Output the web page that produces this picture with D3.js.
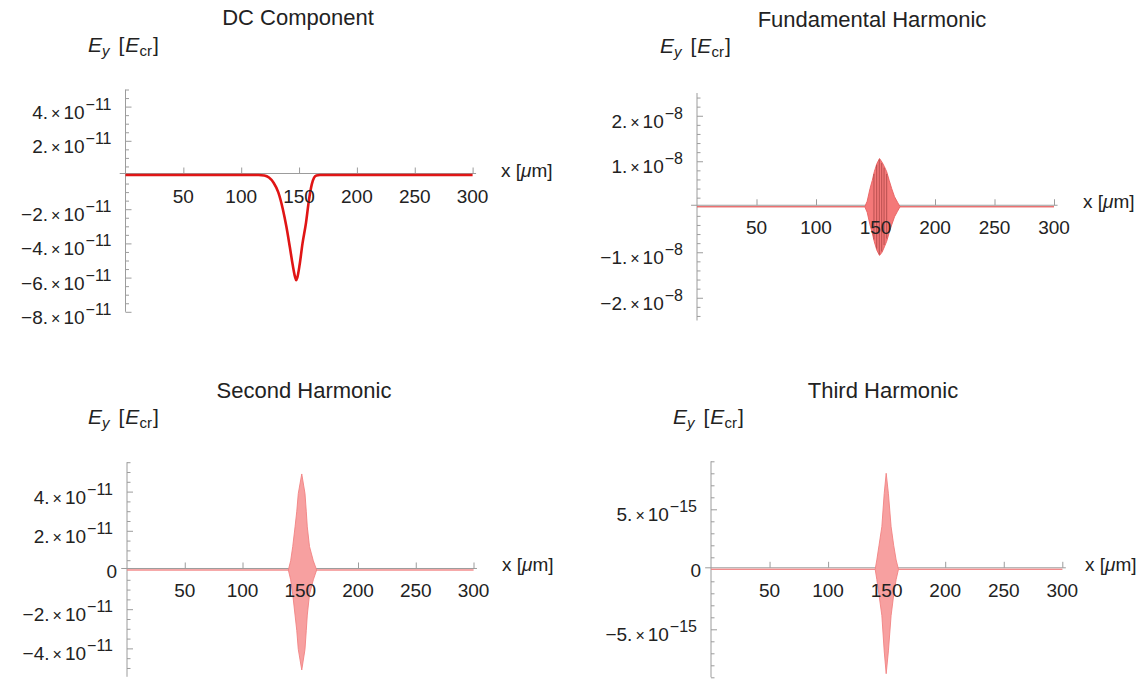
<!DOCTYPE html>
<html>
<head>
<meta charset="utf-8">
<script src="https://cdn.jsdelivr.net/npm/d3@7"></script>
<style>
  body { margin: 0; background: #fff; }
  svg { display: block; font-family: "Liberation Sans", Arial, Helvetica, sans-serif; }
</style>
</head>
<body>
<svg id="chart" width="1147" height="681"></svg>
<script>
// x in µm, field values in units of 10^exp E_cr (exp given per panel)
const xTicks = [50, 100, 150, 200, 250, 300];

// DC component (×1e-11)
const dcX = [0, 115, 120, 124, 128, 132, 136, 139, 142, 144.5, 146.5, 147.5, 148.5, 150.5, 153, 156, 158.5, 161, 163, 165, 168, 300];
const dcY = [0, 0, -0.03, -0.15, -0.45, -1.0, -2.0, -3.0, -4.2, -5.25, -5.95, -6.15, -6.0, -5.25, -4.0, -2.8, -1.5, -0.55, -0.15, -0.03, 0, 0];
const dcYTicks = [4, 2, -2, -4, -6, -8];

// Fundamental harmonic envelope (×1e-8)
const fundX  = [0, 141, 143, 145.4, 147.3, 149, 151.2, 153.4, 155.5, 157.5, 159.4, 161.5, 163.6, 166, 168.5, 170.6, 300];
const fundUp = [0, 0, 0.12, 0.4, 0.58, 0.77, 0.95, 1.06, 0.98, 0.88, 0.77, 0.58, 0.4, 0.22, 0.1, 0, 0];
const fundLo = [0, 0, -0.12, -0.4, -0.58, -0.77, -0.96, -1.07, -1.0, -0.88, -0.76, -0.57, -0.4, -0.22, -0.1, 0, 0];
// dark carrier strokes visible inside the packet
const fundStripeX  = [148.7, 151, 153.2, 155.2, 157.2, 159.4];
const fundStripeUp = [0.72, 0.92, 1.04, 0.96, 0.86, 0.72];
const fundStripeLo = [-0.72, -0.92, -1.05, -0.98, -0.84, -0.7];
const fundYTicks = [2, 1, -1, -2];

// Second harmonic envelope (×1e-11)
const secX  = [0, 139.7, 141.7, 143.5, 145.5, 147, 148.3, 151.3, 154.1, 155.2, 156.1, 158, 161.3, 164.2, 300];
const secUp = [0, 0, 0.47, 1.2, 2.2, 3.0, 3.9, 4.9, 3.9, 3.0, 2.2, 1.2, 0.47, 0, 0];
const secLo = [0, 0, -0.5, -1.25, -2.3, -3.1, -4.05, -5.1, -4.05, -3.1, -2.3, -1.25, -0.5, 0, 0];
const secYTicks = [4, 2, 0, -2, -4];

// Third harmonic envelope (×1e-15)
const thirdX  = [0, 140.2, 141.6, 143.5, 145.9, 147.9, 149.6, 151.5, 153.8, 156, 158.1, 160.1, 300];
const thirdUp = [0, 0, 0.78, 2.0, 3.55, 6.3, 8.0, 6.3, 3.55, 2.0, 0.78, 0, 0];
const thirdLo = [0, 0, -0.85, -2.15, -3.85, -6.8, -8.7, -6.8, -3.85, -2.15, -0.85, 0, 0];
const thirdYTicks = [5, 0, -5];

const AXIS = '#9c9c9c';
const INK = '#222';

const panels = [
  { title: 'DC Component', tx: 298, ty: 25, lx: 88, ly: 52, xl: 501,
    xr: [125.5, 472.6], yd: [-8, 5], yr: [311.8, 89.5], exp: -11,
    major: dcYTicks, minorStep: 0.5, kind: 'line', xs: dcX, ys: dcY },
  { title: 'Fundamental Harmonic', tx: 872, ty: 27, lx: 660, ly: 53, xl: 1083,
    xr: [697, 1054], yd: [-2.5, 2.5], yr: [320.5, 93], exp: -8,
    major: fundYTicks, minorStep: 0.2, kind: 'fund', xs: fundX, up: fundUp, lo: fundLo },
  { title: 'Second Harmonic', tx: 304, ty: 398, lx: 88, ly: 424, xl: 502,
    xr: [127, 473.5], yd: [-5.45, 5.5], yr: [676.8, 462.2], exp: -11,
    major: secYTicks, minorStep: 0.5, kind: 'env', xs: secX, up: secUp, lo: secLo },
  { title: 'Third Harmonic', tx: 883, ty: 398, lx: 673, ly: 424, xl: 1085,
    xr: [711, 1062.3], yd: [-9, 9], yr: [677.3, 461.3], exp: -15,
    major: thirdYTicks, minorStep: 1, kind: 'env', xs: thirdX, up: thirdUp, lo: thirdLo }
];

const svg = d3.select('#chart');
svg.append('rect').attr('width', 1147).attr('height', 681).attr('fill', '#fff');

function sciLabel(sel, v, exp) {
  if (v === 0) {
    sel.append('tspan').text('0');
    return;
  }
  const m = (v < 0 ? '\u2212' : '') + Math.abs(v) + '.';
  sel.append('tspan').text(m);
  sel.append('tspan').attr('dx', 3).attr('font-size', 16).text('\u00d7');
  sel.append('tspan').attr('dx', 3).text('10');
  sel.append('tspan').attr('dx', 1).attr('dy', -9).attr('font-size', 16)
    .text('\u2212' + Math.abs(exp));
}

function drawPanel(p) {
  const g = svg.append('g');
  const x = d3.scaleLinear().domain([0, 300]).range(p.xr);
  const y = d3.scaleLinear().domain(p.yd).range(p.yr);
  const axisY = y(0) - 1.5;
  const ax = x(0);

  // y axis with inward ticks
  const minor = d3.range(Math.ceil(p.yd[0] / p.minorStep), Math.floor(p.yd[1] / p.minorStep) + 1)
    .map(i => +(i * p.minorStep).toFixed(4))
    .filter(v => v !== 0 && !p.major.includes(v));

  g.append('g')
    .attr('transform', `translate(${ax},0)`)
    .call(d3.axisRight(y).tickValues(minor).tickSize(3.5).tickFormat(''))
    .call(s => s.select('.domain').remove())
    .call(s => s.selectAll('line').attr('stroke', AXIS));

  g.append('g')
    .attr('transform', `translate(${ax},0)`)
    .call(d3.axisRight(y).tickValues(p.major.filter(v => v !== 0)).tickSize(6).tickFormat(''))
    .call(s => s.select('.domain').remove())
    .call(s => s.selectAll('line').attr('stroke', AXIS));

  g.append('line')
    .attr('x1', ax).attr('x2', ax)
    .attr('y1', p.yr[1]).attr('y2', p.yr[0])
    .attr('stroke', AXIS);

  // x axis
  g.append('line')
    .attr('x1', x(-5)).attr('x2', x(303))
    .attr('y1', axisY).attr('y2', axisY)
    .attr('stroke', AXIS);

  g.append('g')
    .attr('transform', `translate(0,${axisY})`)
    .call(d3.axisTop(x).tickValues(xTicks).tickSize(6).tickFormat(''))
    .call(s => s.select('.domain').remove())
    .call(s => s.selectAll('line').attr('stroke', AXIS));

  // data
  if (p.kind === 'line') {
    const line = d3.line().x(i => x(p.xs[i])).y(i => y(p.ys[i])).curve(d3.curveMonotoneX);
    g.append('path')
      .attr('d', line(d3.range(p.xs.length)))
      .attr('fill', 'none')
      .attr('stroke', '#e01515')
      .attr('stroke-width', 2.6)
      .attr('stroke-linejoin', 'round');
  } else {
    const idx = d3.range(p.xs.length);
    const area = d3.area().x(i => x(p.xs[i])).y0(i => y(p.lo[i])).y1(i => y(p.up[i]));
    const fill = p.kind === 'fund' ? '#f47878' : '#f7a0a0';
    const edge = p.kind === 'fund' ? '#e86060' : '#f28282';
    g.append('path').attr('d', area(idx)).attr('fill', fill);
    const upL = d3.line().x(i => x(p.xs[i])).y(i => y(p.up[i]));
    const loL = d3.line().x(i => x(p.xs[i])).y(i => y(p.lo[i]));
    g.append('path').attr('d', upL(idx)).attr('fill', 'none').attr('stroke', edge).attr('stroke-width', 0.9);
    g.append('path').attr('d', loL(idx)).attr('fill', 'none').attr('stroke', edge).attr('stroke-width', 0.9);
    if (p.kind === 'fund') {
      g.selectAll('line.stripe')
        .data(fundStripeX)
        .join('line')
        .attr('class', 'stripe')
        .attr('x1', d => x(d)).attr('x2', d => x(d))
        .attr('y1', (d, i) => y(fundStripeUp[i]))
        .attr('y2', (d, i) => y(fundStripeLo[i]))
        .attr('stroke', '#5a1010')
        .attr('stroke-width', 0.7)
        .attr('opacity', 0.55);
    }
  }

  // x tick labels
  g.selectAll('text.xt')
    .data(xTicks)
    .join('text')
    .attr('class', 'xt')
    .attr('x', d => x(d))
    .attr('y', axisY + 29)
    .attr('text-anchor', 'middle')
    .attr('font-size', 19)
    .attr('fill', INK)
    .text(d => d);

  // y tick labels
  p.major.forEach(v => {
    const t = g.append('text')
      .attr('x', v === 0 ? ax - 10 : ax - 14)
      .attr('y', v === 0 ? y(v) + 8 : y(v) + 12)
      .attr('text-anchor', 'end')
      .attr('font-size', 19)
      .attr('fill', INK);
    sciLabel(t, v, p.exp);
  });

  // title
  g.append('text')
    .attr('x', p.tx).attr('y', p.ty)
    .attr('text-anchor', 'middle')
    .attr('font-size', 22)
    .attr('fill', INK)
    .text(p.title);

  // y label
  const yl = g.append('text')
    .attr('x', p.lx).attr('y', p.ly)
    .attr('font-size', 21)
    .attr('fill', INK);
  yl.append('tspan').attr('font-style', 'italic').text('E');
  yl.append('tspan').attr('font-style', 'italic').attr('font-size', 15).attr('dy', 4).text('y');
  yl.append('tspan').attr('dx', 9).attr('dy', -4).text('[');
  yl.append('tspan').attr('font-style', 'italic').attr('dx', 1).text('E');
  yl.append('tspan').attr('font-size', 15).attr('dy', 4).text('cr');
  yl.append('tspan').attr('dx', 1).attr('dy', -4).text(']');

  // x label
  const xl = g.append('text')
    .attr('x', p.xl).attr('y', axisY + 3)
    .attr('font-size', 19)
    .attr('fill', INK);
  xl.append('tspan').text('x [');
  xl.append('tspan').attr('font-style', 'italic').text('\u03bc');
  xl.append('tspan').text('m]');
}

panels.forEach(drawPanel);
</script>
</body>
</html>
